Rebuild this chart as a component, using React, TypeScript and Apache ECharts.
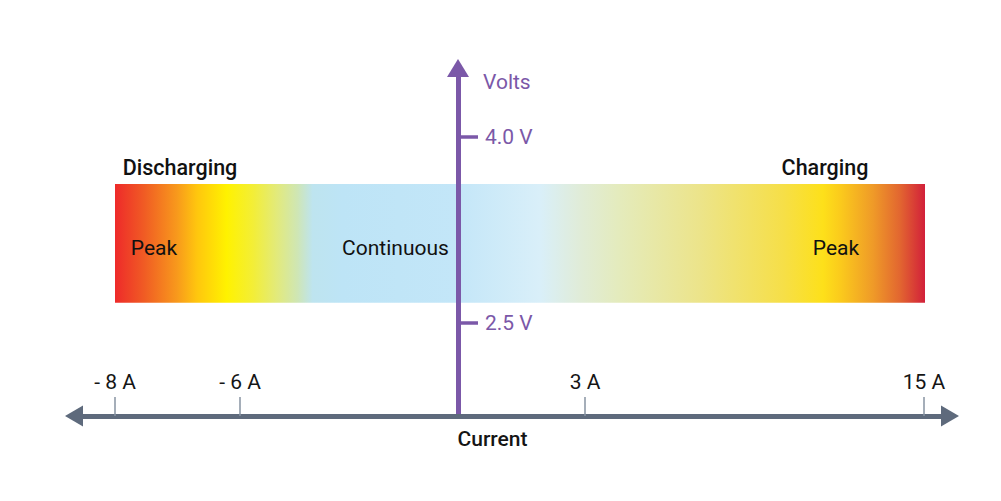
import React, { useEffect, useRef } from "react";
import * as echarts from "echarts";

// Horizontal axis: current (schematic, not linear). Positions are in schematic units.
const currentTickLabels = ["- 8 A", "- 6 A", "3 A", "15 A"];
const currentTickPos = [-34.3, -21.8, 12.7, 46.6];
const currentRange = [-38.4, 49.2];

// Vertical axis: volts
const voltTicks = [2.5, 4.0];
const voltRange = [1.744, 4.558];

// Operating band
const bandCurrent = [-34.3, 46.7];
const bandVolts = [2.66, 3.62];

// Zone annotations
const zoneNames = ["Discharging", "Charging", "Peak", "Continuous", "Peak"];
const zoneCurrent = [-27.8, 36.7, -30.4, -6.25, 37.8];
const zoneVolts = [3.757, 3.75, 3.1, 3.1, 3.1];
const zoneBold = [true, true, false, false, false];

const gradientOffsets = [0, 0.035, 0.077, 0.101, 0.138, 0.17, 0.2, 0.225, 0.244, 0.281, 0.42, 0.525, 0.574, 0.623, 0.722, 0.825, 0.874, 0.895, 0.936, 0.969, 1];
const gradientColors = ["#ee2a2a", "#f05a24", "#f89a1c", "#ffc60e", "#fff200", "#f3ee36", "#e2ea7c", "#cfe6b4", "#bee4ef", "#bde4f6", "#c3e6f8", "#d9eff9", "#e0ecd8", "#e4ebbc", "#ece48a", "#f6df48", "#fde01a", "#fbcb1c", "#ef9a28", "#e26630", "#d2203a"];

const PURPLE = "#7b58a8";
const SLATE = "#5e6a7c";
const FONT = "Roboto, 'Noto Sans', sans-serif";
const FS = 21;

const GRID_LEFT = 74;
const GRID_RIGHT = 51;
const GRID_W = 1001 - GRID_LEFT - GRID_RIGHT;
// offset of the vertical axis so that it stands at current position 0
const Y_AXIS_OFFSET = -((0 - currentRange[0]) / (currentRange[1] - currentRange[0])) * GRID_W;

function nearestLabel(v: number): string {
  let best = 0;
  let d = Infinity;
  currentTickPos.forEach((p, i) => {
    const dd = Math.abs(p - v);
    if (dd < d) {
      d = dd;
      best = i;
    }
  });
  return currentTickLabels[best];
}

export default function App() {
  const ref = useRef<HTMLDivElement>(null);
  useEffect(() => {
    if (!ref.current) return;
    const chart = echarts.init(ref.current, null, { renderer: "svg" });
    const stops = gradientOffsets.map((o, i) => ({ offset: o, color: gradientColors[i] }));
    chart.setOption({
      animation: false,
      backgroundColor: "#ffffff",
      grid: { left: GRID_LEFT, right: GRID_RIGHT, top: 68, bottom: 85, containLabel: false, outerBoundsMode: "none" },
      xAxis: {
        type: "value",
        min: currentRange[0],
        max: currentRange[1],
        z: 6,
        axisLine: {
          show: true,
          onZero: false,
          symbol: ["triangle", "triangle"],
          symbolSize: [21, 18],
          lineStyle: { color: SLATE, width: 5 },
        },
        axisTick: {
          show: true,
          inside: true,
          length: 19,
          customValues: currentTickPos,
          lineStyle: { color: "#8793a2", width: 1.5 },
        },
        axisLabel: {
          show: true,
          inside: true,
          margin: 24,
          customValues: currentTickPos,
          formatter: (v: number) => nearestLabel(v),
          color: "#151515",
          fontSize: FS,
          fontFamily: FONT,
        },
        splitLine: { show: false },
        name: "Current",
        nameLocation: "middle",
        nameGap: 12,
        nameTextStyle: {
          color: "#151515",
          fontSize: FS,
          fontWeight: 500,
          fontFamily: FONT,
          padding: [0, 39, 0, 0],
        },
      },
      yAxis: {
        type: "value",
        min: voltRange[0],
        max: voltRange[1],
        z: 5,
        offset: Y_AXIS_OFFSET,
        axisLine: {
          show: true,
          onZero: false,
          symbol: ["none", "triangle"],
          symbolSize: [22, 18],
          lineStyle: { color: PURPLE, width: 5 },
        },
        axisTick: {
          show: true,
          inside: true,
          length: 20,
          customValues: voltTicks,
          lineStyle: { color: PURPLE, width: 3.5 },
        },
        axisLabel: {
          show: true,
          inside: true,
          margin: 27,
          customValues: voltTicks,
          formatter: (v: number) => v.toFixed(1) + " V",
          color: PURPLE,
          fontSize: FS,
          fontFamily: FONT,
        },
        splitLine: { show: false },
        name: "Volts",
        nameLocation: "end",
        nameGap: -14,
        nameTextStyle: {
          color: PURPLE,
          fontSize: FS,
          fontFamily: FONT,
          align: "left",
          verticalAlign: "middle",
          padding: [0, 0, 0, 25],
        },
      },
      series: [
        {
          type: "custom",
          z: 1,
          silent: true,
          data: [[bandCurrent[0], bandCurrent[1], bandVolts[0], bandVolts[1]]],
          renderItem: (params: any, api: any) => {
            const p0 = api.coord([api.value(0), api.value(3)]);
            const p1 = api.coord([api.value(1), api.value(2)]);
            return {
              type: "rect",
              shape: { x: p0[0], y: p0[1], width: p1[0] - p0[0], height: p1[1] - p0[1] },
              style: { fill: new echarts.graphic.LinearGradient(0, 0, 1, 0, stops) },
            };
          },
        },
        {
          type: "custom",
          z: 3,
          silent: true,
          data: zoneNames.map((n, i) => [zoneCurrent[i], zoneVolts[i]]),
          renderItem: (params: any, api: any) => {
            const i = params.dataIndex;
            const p = api.coord([api.value(0), api.value(1)]);
            return {
              type: "text",
              x: p[0],
              y: p[1],
              style: {
                text: zoneNames[i],
                fill: "#111111",
                fontSize: zoneBold[i] ? 21.5 : FS,
                fontWeight: zoneBold[i] ? 500 : 400,
                fontFamily: FONT,
                align: "center",
                verticalAlign: "middle",
              },
            };
          },
        },
      ],
    });
    return () => chart.dispose();
  }, []);
  return (
    <div
      ref={ref}
      style={{ position: "fixed", left: 0, top: 0, width: 1001, height: 501 }}
    />
  );
}
